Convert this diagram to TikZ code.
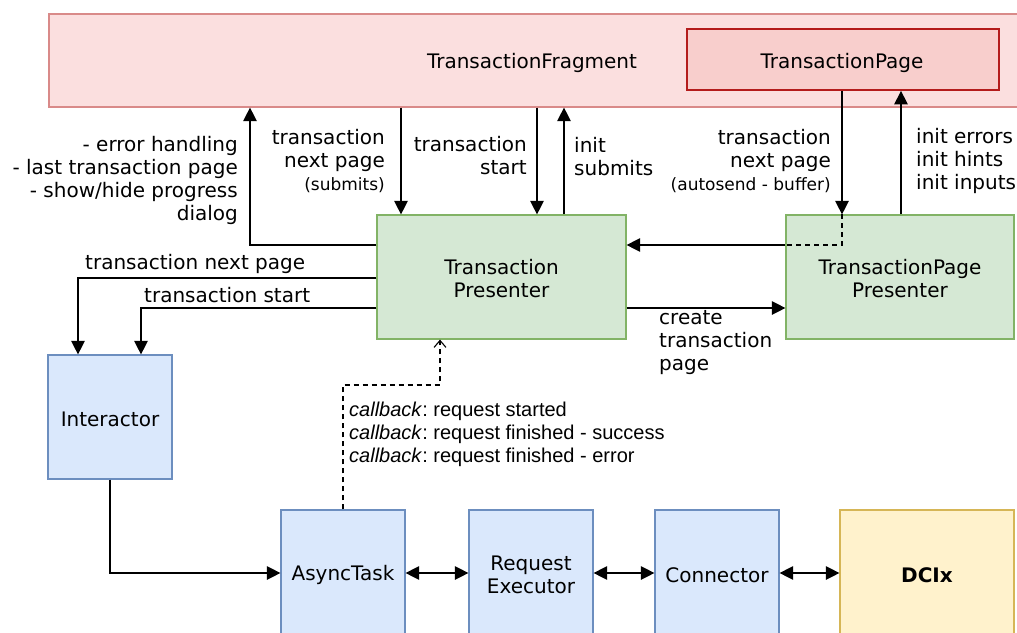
\documentclass[tikz,border=0pt]{standalone}
\usepackage{fontspec}
\setmainfont{DejaVu Sans}
\newfontfamily\cbfont{Liberation Sans}
\usetikzlibrary{arrows.meta}

\definecolor{fragfill}{HTML}{FBDFDF}
\definecolor{fragline}{HTML}{D98A89}
\definecolor{pagefill}{HTML}{F8CECC}
\definecolor{pageline}{HTML}{B41C1C}
\definecolor{greenfill}{HTML}{D5E8D4}
\definecolor{greenline}{HTML}{82B366}
\definecolor{bluefill}{HTML}{DAE8FC}
\definecolor{blueline}{HTML}{6C8EBF}
\definecolor{yellowfill}{HTML}{FFF2CC}
\definecolor{yellowline}{HTML}{D6B656}

\tikzset{
  box/.style={draw, line width=1.2pt, inner sep=0pt, align=center},
  fragbox/.style={box, draw=fragline, fill=fragfill},
  pagebox/.style={box, draw=pageline, fill=pagefill, line width=1.8pt},
  presbox/.style={box, draw=greenline, fill=greenfill, minimum height=124pt},
  logicbox/.style={box, draw=blueline, fill=bluefill, minimum width=124pt},
  extbox/.style={box, draw=yellowline, fill=yellowfill},
  lbl/.style={inner sep=0pt},
  flow/.style={line width=1.3pt, -{Triangle[length=13.5pt,width=13.5pt]}},
  both/.style={line width=1.3pt, {Triangle[length=13.5pt,width=13.5pt]}-{Triangle[length=13.5pt,width=13.5pt]}},
  cbline/.style={line width=1.1pt, dash pattern=on 5pt off 4pt, -{Straight Barb[length=7pt,width=12pt]}}
}
\newcommand{\smalltxt}{\fontsize{17}{20}\selectfont}

\begin{document}
\begin{tikzpicture}[x=1pt,y=-1pt,font=\fontsize{20}{23}\selectfont]
\useasboundingbox (0,0) rectangle (1017,632);
\clip (0,0) rectangle (1017,632);

%Fragment and page
\node[fragbox, minimum width=990pt, minimum height=93pt] (frag) at (544,60.5) {};
\node[lbl] (fragname) at (532,62.5) {TransactionFragment};
\node[pagebox, minimum width=312pt, minimum height=61pt] (page) at (843,59.5) {};
\node[lbl] (pagename) at (842,62.5) {TransactionPage};

%Presenters
\node[presbox, minimum width=249pt] (tp) at (501.5,277) {};
\node[lbl, align=center] (tpname) at (501.5,279) {Transaction\\Presenter};
\node[presbox, minimum width=228pt] (tpp) at (900,277) {};
\node[lbl, align=center] (tppname) at (900,279) {TransactionPage\\Presenter};

%Logic
\node[logicbox, minimum height=124pt] (inter) at (110,417) {};
\node[lbl] (intername) at (110,419) {Interactor};
\node[logicbox, minimum height=126pt] (async) at (343,573) {};
\node[lbl] (asyncname) at (343,575) {AsyncTask};
\node[logicbox, minimum height=126pt] (reqexec) at (531,573) {};
\node[lbl, align=center] (reqexecname) at (531,575) {Request\\Executor};
\node[logicbox, minimum height=126pt] (conn) at (717,573) {};
\node[lbl] (connname) at (717,575) {Connector};
\node[extbox, minimum width=174pt, minimum height=126pt] (dcix) at (927,573) {};
\node[lbl] (dcixname) at (927,575) {\bfseries DCIx};

%Presenter -> fragment
\draw[flow] (tp.west |- 0,245) -| (frag.south -| 250,0);
\node[lbl, anchor=east, align=right] (errlbl) at (238,180)
  {- error handling\\- last transaction page\\- show/hide progress\\dialog};
\draw[flow] (frag.south -| 401,0) -- (tp.north -| 401,0);
\node[lbl, anchor=east, align=right] (submitlbl) at (385,161)
  {transaction\\next page\\{\smalltxt (submits)}};
\draw[flow] (frag.south -| 537,0) -- (tp.north -| 537,0);
\node[lbl, anchor=east, align=right] (startlbl) at (527,156) {transaction\\start};
\draw[flow] (tp.north -| 564,0) -- (frag.south -| 564,0);
\node[lbl, anchor=west, align=left] (initlbl) at (574,157) {init\\submits};

%Page <-> page presenter
\draw[flow] (page.south -| 842,0) -- (tpp.north -| 842,0);
\draw[line width=1.1pt, dash pattern=on 5pt off 4pt] (tpp.north -| 842,0) |- (tpp.west |- 0,245);
\draw[flow] (tpp.west |- 0,245) -- (tp.east |- 0,245);
\node[lbl, anchor=east, align=right] (autolbl) at (831,161)
  {transaction\\next page\\{\smalltxt (autosend - buffer)}};
\draw[flow] (tpp.north -| 901,0) -- (page.south -| 901,0);
\node[lbl, anchor=west, align=left] (hintlbl) at (916,160.5) {init errors\\init hints\\init inputs};

%Presenter -> interactor
\draw[flow] (tp.west |- 0,278) -| (inter.north -| 78,0);
\node[lbl, anchor=west] (nextlbl) at (85,264) {transaction next page};
\draw[flow] (tp.west |- 0,308) -| (inter.north -| 141,0);
\node[lbl, anchor=west] (start2lbl) at (144,295) {transaction start};
\draw[flow] (tp.east |- 0,308) -- (tpp.west |- 0,308);
\node[lbl, anchor=west, align=left] (createlbl) at (659,342.5) {create\\transaction\\page};

%Callbacks
\draw[cbline] (async.north) |- (440,385) -- (tp.south -| 440,0);
\node[lbl, anchor=west, align=left, font=\cbfont\fontsize{20}{23}\selectfont\frenchspacing] (cblbl) at (349,434.5)
  {\textit{callback}: request started\\\textit{callback}: request finished - success\\\textit{callback}: request finished - error};

%Request chain
\draw[flow] (inter.south) |- (async.west);
\draw[both] (async.east) -- (reqexec.west);
\draw[both] (reqexec.east) -- (conn.west);
\draw[both] (conn.east) -- (dcix.west);
\end{tikzpicture}
\end{document}
